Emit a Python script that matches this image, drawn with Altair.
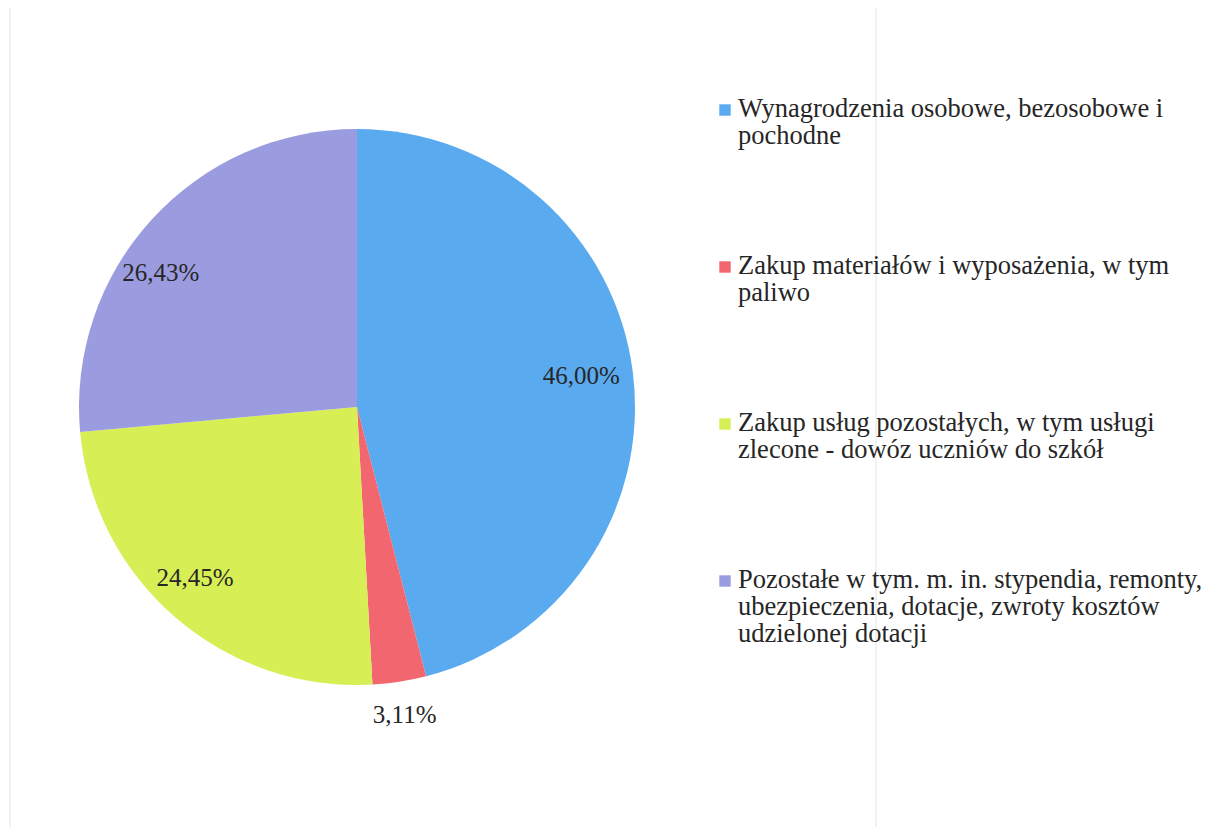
import altair as alt
import pandas as pd

categories = [
    "Wynagrodzenia osobowe, bezosobowe i\npochodne",
    "Zakup materiałów i wyposażenia, w tym\npaliwo",
    "Zakup usług pozostałych, w tym usługi\nzlecone - dowóz uczniów do szkół",
    "Pozostałe w tym. m. in. stypendia, remonty,\nubezpieczenia, dotacje, zwroty kosztów\nudzielonej dotacji",
]
values = [46.00, 3.11, 24.45, 26.43]
labels = ["46,00%", "3,11%", "24,45%", "26,43%"]
colors = ["#5aaaf0", "#f2666f", "#d8ee55", "#9b9be0"]

df = pd.DataFrame({"idx": list(range(len(values))), "cat": categories,
                   "value": values, "label": labels})

color_scale = alt.Scale(domain=categories, range=colors)
FONT = "Times New Roman, Liberation Serif, serif"
CX, CY = 349, 399

base = alt.Chart(df)

pie = base.mark_arc(radius=278, stroke=None).encode(
    theta=alt.Theta("value:Q", stack=True),
    order=alt.Order("idx:Q"),
    color=alt.Color("cat:N", scale=color_scale, legend=None),
    x=alt.value(CX), y=alt.value(CY),
)


def pct_layer(cond, radius, dx=0, dy=0):
    return base.transform_calculate(
        t=f"({cond}) ? datum.label : ''"
    ).mark_text(font=FONT, fontSize=25, color="#262626", radius=radius, dx=dx, dy=dy).encode(
        theta=alt.Theta("value:Q", stack=True),
        order=alt.Order("idx:Q"),
        text="t:N",
        x=alt.value(CX), y=alt.value(CY),
    )


pct_blue = pct_layer("datum.idx == 0", 228, dx=-2, dy=-2)
pct_small = pct_layer("datum.idx == 1", 312)
pct_yellow = pct_layer("datum.idx == 2", 228, dx=-13, dy=-2)
pct_purple = pct_layer("datum.idx == 3", 232, dx=-25, dy=23)

ypos = alt.Y("idx:O", scale=alt.Scale(type="point", range=[102, 573], padding=0), axis=None)

leg_sq = base.mark_square(size=130, opacity=1).encode(
    x=alt.value(717),
    y=ypos,
    color=alt.Color("cat:N", scale=color_scale, legend=None),
)

leg_txt = base.mark_text(font=FONT, fontSize=26.5, align="left", baseline="alphabetic",
                         lineBreak="\n", lineHeight=27, dy=7, color="#262626").encode(
    x=alt.value(730),
    y=ypos,
    text="cat:N",
)

lines = alt.Chart(pd.DataFrame({"lx": [2, 868]})).mark_rule(color="#e4e4e4", strokeWidth=1).encode(
    x=alt.X("lx:Q", scale=None), y=alt.value(0), y2=alt.value(819)
)

chart = alt.layer(lines, pie, pct_blue, pct_small, pct_yellow, pct_purple, leg_sq, leg_txt).properties(
    width=1209, height=819, autosize=alt.AutoSizeParams(type="none"), padding=0,
    background="white"
).configure_view(stroke=None)

chart.save("out.html", embed_options={"renderer": "svg", "actions": False})
